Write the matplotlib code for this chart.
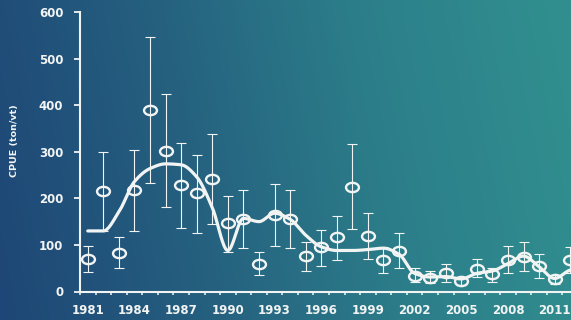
import numpy as np
import matplotlib
matplotlib.use("Agg")
import matplotlib.pyplot as plt
from matplotlib.path import Path
from matplotlib.colors import LinearSegmentedColormap

# yearly CPUE estimates with error bar limits
years = list(range(1981, 2013))
cpue = [70, 216, 82, 218, 390, 302, 229, 211, 241, 146,
        156, 60, 164, 155, 77, 96, 116, 224, 119, 68,
        87, 34, 30, 39, 23, 48, 37, 68, 75, 55, 27, 68]
upper = [98, 300, 116, 304, 546, 424, 319, 293, 338, 205,
         217, 85, 230, 217, 107, 132, 162, 316, 168, 96,
         125, 50, 45, 58, 32, 70, 50, 98, 106, 80, 35, 96]
lower = [42, 130, 50, 130, 232, 181, 136, 126, 145, 85,
         93, 35, 98, 93, 45, 55, 68, 134, 70, 40,
         51, 21, 18, 21, 14, 32, 21, 39, 43, 30, 16, 39]
# smoothed trend line
trend = [130, 130, 171, 236, 264, 274, 272, 246, 180, 88,
         157, 150, 168, 155, 121, 96, 88, 88, 90, 93,
         80, 39, 31, 32, 27, 39, 44, 60, 76, 53, 28, 46]

xlabels = [str(y) for y in range(1981, 2013, 3)]
ylabel = "CPUE (ton/vt)"


def pchip(x, y, xs):
    # monotone cubic through the trend values (Fritsch-Carlson)
    x = np.asarray(x, float)
    y = np.asarray(y, float)
    h = np.diff(x)
    d = np.diff(y) / h
    m = np.zeros_like(y)
    for i in range(1, len(y) - 1):
        if d[i - 1] * d[i] > 0:
            m[i] = 2 / (1 / d[i - 1] + 1 / d[i])
    m[0] = d[0] / 2
    m[-1] = d[-1] / 2
    idx = np.clip(np.searchsorted(x, xs) - 1, 0, len(x) - 2)
    t = (xs - x[idx]) / h[idx]
    h00 = 2 * t**3 - 3 * t**2 + 1
    h10 = t**3 - 2 * t**2 + t
    h01 = -2 * t**3 + 3 * t**2
    h11 = t**3 - t**2
    return h00 * y[idx] + h10 * h[idx] * m[idx] + h01 * y[idx + 1] + h11 * h[idx] * m[idx + 1]


fg = "#f2f4f4"
plt.rcParams["font.family"] = "DejaVu Sans"

fig = plt.figure(figsize=(5.71, 3.2), dpi=100)

# slide background gradient
bg = fig.add_axes([0, 0, 1, 1], zorder=-10)
cmap = LinearSegmentedColormap.from_list("slide", ["#1e4676", "#25607f", "#2c7f8a", "#31908f"])
gx = np.linspace(0, 1, 300)
gy = np.linspace(0, 1, 200)
GX, GY = np.meshgrid(gx, gy)
bg.imshow(np.clip(GX * 0.9 + (1 - GY) * 0.1, 0, 1), cmap=cmap, aspect="auto",
          extent=[0, 1, 0, 1], origin="upper")
bg.axis("off")

ax = fig.add_axes([80 / 571, 28.5 / 320, 498 / 571, 279.5 / 320])
ax.patch.set_alpha(0)

x = np.array(years)
y = np.array(cpue)
yerr = [y - np.array(lower), np.array(upper) - y]
ax.errorbar(x, y, yerr=yerr, fmt="none", ecolor=fg, elinewidth=0.8,
            capsize=3.6, capthick=0.8, zorder=2)

xs = np.linspace(years[0], years[-1], 600)
ax.plot(xs, pchip(years, trend, xs), color=fg, lw=2.3, zorder=3,
        solid_capstyle="round")

ellipse = Path.unit_circle().transformed(matplotlib.transforms.Affine2D().scale(1.0, 0.72))
ax.plot(x, y, linestyle="none", marker=ellipse, markersize=9.3,
        markerfacecolor="none", markeredgecolor=fg, markeredgewidth=1.7, zorder=4)

ax.set_xlim(1980.5, 2012.5)
ax.set_ylim(0, 600)
ax.set_yticks(range(0, 601, 100))
ax.set_xticks(range(1981, 2013, 3))
ax.set_xticklabels(xlabels)
ax.set_xticks(np.arange(1980.5, 2013, 1), minor=True)

for s in ["top", "right"]:
    ax.spines[s].set_visible(False)
for s in ["left", "bottom"]:
    ax.spines[s].set_color(fg)
    ax.spines[s].set_linewidth(1.5)

ax.tick_params(axis="y", colors=fg, length=4, width=1.3, pad=8, labelsize=8.5)
ax.tick_params(axis="x", which="major", colors=fg, length=0, pad=9, labelsize=8.5)
ax.tick_params(axis="x", which="minor", colors=fg, length=2.5, width=1.1)
for lab in ax.get_xticklabels() + ax.get_yticklabels():
    lab.set_fontweight("bold")

fig.text(15 / 571, 1 - 141 / 320, ylabel, rotation=90, color=fg,
         fontsize=6.8, fontweight="bold", ha="center", va="center")

fig.savefig("out.png", dpi=100)
